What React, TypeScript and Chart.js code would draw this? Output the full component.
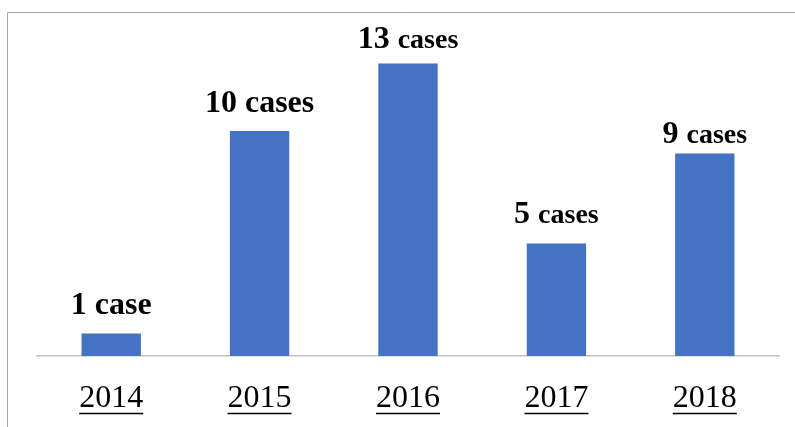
import React, { useEffect, useRef } from "react";
import { Chart, registerables } from "chart.js";

Chart.register(...registerables);

const years = ["2014", "2015", "2016", "2017", "2018"];
const caseCounts = [1, 10, 13, 5, 9];
const unitWords = ["case", "cases", "cases", "cases", "cases"];

const SERIF = "'Liberation Serif', 'Times New Roman', serif";

const framePlugin = {
  id: "frame",
  beforeDraw(chart: any) {
    const ctx = chart.ctx;
    ctx.save();
    ctx.strokeStyle = "#a6a6a6";
    ctx.lineWidth = 1;
    ctx.beginPath();
    ctx.moveTo(7.5, chart.height + 5);
    ctx.lineTo(7.5, 12.5);
    ctx.lineTo(chart.width + 5, 12.5);
    ctx.stroke();
    ctx.restore();
  },
};

const barLabelPlugin = {
  id: "barLabels",
  afterDatasetsDraw(chart: any, _args: any, opts: any) {
    const ctx = chart.ctx;
    const meta = chart.getDatasetMeta(0);
    const ds = chart.data.datasets[0];
    ctx.save();
    ctx.fillStyle = "#000";
    ctx.textBaseline = "alphabetic";
    ctx.textAlign = "left";
    meta.data.forEach((bar: any, i: number) => {
      const numText = String(ds.data[i]) + " ";
      const unitText = unitWords[i];
      const numFont = `bold ${opts.numSize}px ${SERIF}`;
      const unitFont = `bold ${opts.unitSizes[i]}px ${SERIF}`;
      ctx.font = numFont;
      const w1 = ctx.measureText(numText).width;
      ctx.font = unitFont;
      const w2 = ctx.measureText(unitText).width;
      const x0 = bar.x - (w1 + w2) / 2;
      const y = bar.y - opts.gaps[i];
      ctx.font = numFont;
      ctx.fillText(numText, x0, y);
      ctx.font = unitFont;
      ctx.fillText(unitText, x0 + w1, y);
    });
    ctx.restore();
  },
};

const underlinePlugin = {
  id: "tickUnderline",
  afterDraw(chart: any) {
    const ctx = chart.ctx;
    const xs = chart.scales.x;
    ctx.save();
    ctx.font = `32px ${SERIF}`;
    ctx.strokeStyle = "#000";
    ctx.lineWidth = 1.5;
    xs.ticks.forEach((t: any, i: number) => {
      const label = String(chart.data.labels[i]);
      const w = ctx.measureText(label).width;
      const cx = xs.getPixelForTick(i);
      ctx.beginPath();
      ctx.moveTo(cx - w / 2, 413.5);
      ctx.lineTo(cx + w / 2, 413.5);
      ctx.stroke();
    });
    ctx.restore();
  },
};

export default function App() {
  const ref = useRef<HTMLCanvasElement>(null);
  useEffect(() => {
    if (!ref.current) return;
    const chart = new Chart(ref.current, {
      type: "bar",
      data: {
        labels: years,
        datasets: [
          {
            data: caseCounts,
            backgroundColor: "#4472C4",
            barPercentage: 0.4,
            categoryPercentage: 1,
          },
        ],
      },
      options: {
        animation: false,
        responsive: false,
        maintainAspectRatio: false,
        layout: { padding: { left: 37, right: 16, top: 41, bottom: 0 } },
        plugins: {
          legend: { display: false },
          tooltip: { enabled: false },
          barLabels: {
            numSize: 32,
            unitSizes: [32, 32, 28, 28, 28],
            gaps: [20, 19, 16, 21, 11],
          },
        } as any,
        scales: {
          x: {
            grid: { display: false, drawTicks: false, tickLength: 0 },
            border: { display: true, color: "#bfbfbf", width: 1.5 },
            ticks: {
              color: "#000",
              font: { family: SERIF, size: 32 },
              padding: 23,
              maxRotation: 0,
            },
            afterFit(scale: any) {
              scale.height = 71;
            },
          },
          y: {
            display: false,
            min: 0,
            max: 14,
          },
        },
      },
      plugins: [framePlugin, barLabelPlugin, underlinePlugin],
    });
    return () => chart.destroy();
  }, []);
  return (
    <div style={{ position: "fixed", left: 0, top: 0, width: 795, height: 427, background: "#fff" }}>
      <canvas ref={ref} width={795} height={427} style={{ display: "block" }} />
    </div>
  );
}
